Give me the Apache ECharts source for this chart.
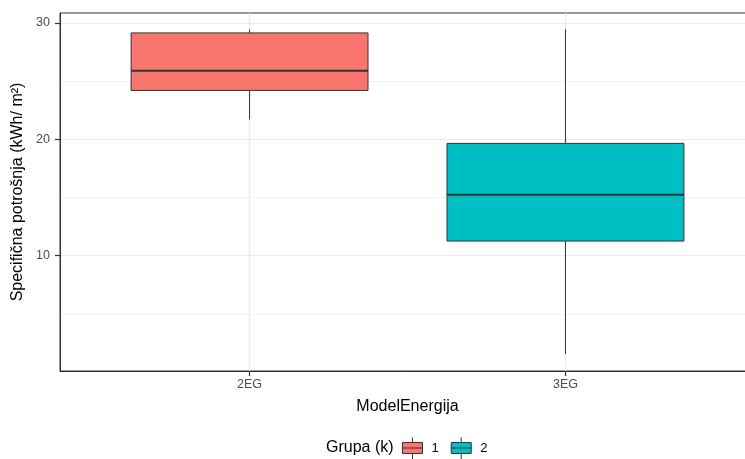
<!DOCTYPE html>
<html><head><meta charset="utf-8">
<script src="https://cdn.jsdelivr.net/npm/echarts@6/dist/echarts.min.js"></script>
<style>html,body{margin:0;padding:0;background:#fff}#c{width:745px;height:459px}</style>
</head><body><div id="c"></div>
<script>
const categories = ['2EG', '3EG'];
const groups = ['1', '2'];
const groupColors = ['#F8766D', '#00BFC4'];
// [categoryIndex, min, Q1, median, Q3, max]
const group1Box = [[0, 21.7, 24.2, 25.9, 29.14, 29.43]];
const group2Box = [[1, 1.56, 11.26, 15.24, 19.65, 29.46]];
const xTicks = [0, 1];
const yMajorTicks = [10, 20, 30];
const yMinorTicks = [5, 15, 25];

const FONT = 'Liberation Sans, Arial, sans-serif';

function renderBox(params, api) {
  const x = api.value(0);
  const pMin = api.coord([x, api.value(1)]);
  const pQ1 = api.coord([x, api.value(2)]);
  const pMed = api.coord([x, api.value(3)]);
  const pQ3 = api.coord([x, api.value(4)]);
  const pMax = api.coord([x, api.value(5)]);
  const w = api.size([0.75, 0])[0];
  const cx = pMed[0];
  const fill = api.visual('color');
  return {
    type: 'group',
    children: [
      {type: 'line', shape: {x1: cx, y1: pQ3[1], x2: cx, y2: pMax[1]}, style: {stroke: '#333333', lineWidth: 1}},
      {type: 'line', shape: {x1: cx, y1: pQ1[1], x2: cx, y2: pMin[1]}, style: {stroke: '#333333', lineWidth: 1}},
      {type: 'rect', shape: {x: cx - w / 2, y: pQ3[1], width: w, height: pQ1[1] - pQ3[1]}, style: {fill: fill, stroke: '#333333', lineWidth: 1}},
      {type: 'line', shape: {x1: cx - w / 2, y1: pMed[1], x2: cx + w / 2, y2: pMed[1]}, style: {stroke: '#333333', lineWidth: 2}}
    ]
  };
}

const boxData = [group1Box, group2Box];

const chart = echarts.init(document.getElementById('c'), null, {renderer: 'canvas'});
const option = {
  animation: false,
  backgroundColor: '#ffffff',
  textStyle: {fontFamily: FONT},
  grid: {
    left: 60, top: 13, width: 695, height: 358,
    show: true, borderColor: '#333333', borderWidth: 1, backgroundColor: 'transparent',
    outerBoundsMode: 'none', containLabel: false
  },
  xAxis: {
    type: 'value', min: -0.6, max: 1.6,
    name: 'ModelEnergija', nameLocation: 'middle', nameGap: 28,
    nameTextStyle: {fontSize: 16, color: '#000000', fontFamily: FONT},
    axisLine: {show: true, onZero: false, lineStyle: {color: '#333333', width: 1}},
    axisTick: {show: true, inside: false, customValues: xTicks, length: 5, lineStyle: {color: '#333333', width: 1.2}},
    axisLabel: {customValues: xTicks, formatter: v => categories[Math.round(v)], fontSize: 12.5, color: '#4D4D4D', margin: 7, fontFamily: FONT},
    splitLine: {show: true, lineStyle: {color: '#EBEBEB', width: 1.2}}
  },
  yAxis: [{
    type: 'value', min: 0.1, max: 30.85, position: 'left',
    name: 'Specifična potrošnja (kWh/ m²)', nameLocation: 'middle', nameGap: 30,
    nameTextStyle: {fontSize: 16, color: '#000000', fontFamily: FONT},
    axisLine: {show: true, onZero: false, lineStyle: {color: '#333333', width: 1}},
    axisTick: {show: true, inside: false, customValues: yMajorTicks, length: 5, lineStyle: {color: '#333333', width: 1.2}},
    axisLabel: {customValues: yMajorTicks, fontSize: 12.5, color: '#4D4D4D', margin: 10, fontFamily: FONT},
    splitLine: {show: true, lineStyle: {color: '#EBEBEB', width: 1.2}}
  }, {
    type: 'value', min: 0.1, max: 30.85, position: 'right',
    axisLine: {show: false, onZero: false},
    axisTick: {show: false, customValues: yMinorTicks},
    axisLabel: {show: false, customValues: yMinorTicks},
    splitLine: {show: true, lineStyle: {color: '#F0F0F0', width: 0.9}}
  }],
  legend: {
    data: groups,
    left: 397, top: 432,
    itemWidth: 28, itemHeight: 22, itemGap: 12,
    icon: 'path://M0,5H20V16H0Z M0,10.5H20 M10,0V5 M10,16V22',
    textStyle: {fontSize: 13, color: '#000000', fontFamily: FONT},
    itemStyle: {borderColor: '#333333', borderWidth: 1}
  },
  graphic: [{
    type: 'text', x: 326, y: 448,
    style: {text: 'Grupa (k)', fontSize: 16, fontFamily: FONT, fill: '#000000', verticalAlign: 'middle', align: 'left'}
  }],
  series: groups.map((g, i) => ({
    type: 'custom',
    name: g,
    renderItem: renderBox,
    encode: {x: 0, y: [1, 2, 3, 4, 5]},
    itemStyle: {color: groupColors[i], borderColor: '#333333', borderWidth: 1},
    data: boxData[i],
    z: 3
  }))
};
chart.setOption(option);
</script>
</body></html>
